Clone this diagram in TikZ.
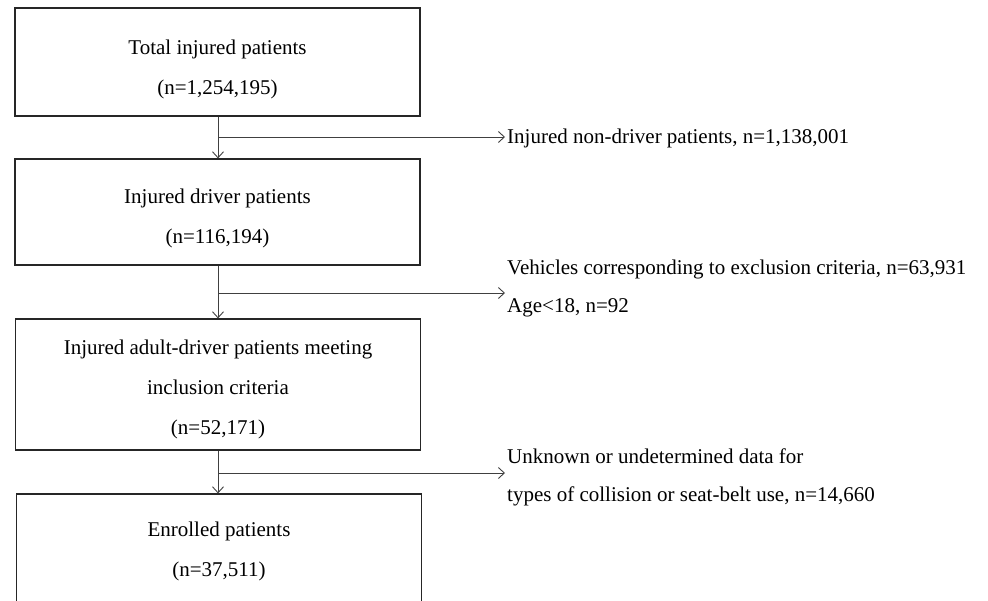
\documentclass[tikz,border=0pt]{standalone}
\usepackage{fontspec}
\setmainfont{Liberation Serif}
\usetikzlibrary{arrows.meta}

\begin{document}
\begin{tikzpicture}[x=1pt,y=-1pt,
  box/.style={draw=black!85, line width=1.2pt, minimum width=405pt, align=center,
    font=\fontsize{21}{40}\selectfont},
  side/.style={anchor=west, inner sep=2pt, align=left, font=\fontsize{21}{38}\selectfont},
  flow/.style={draw=black!75, line width=0.9pt, -{Straight Barb[length=6pt,width=11pt]}}]
\useasboundingbox (0,0) rectangle (988,600);
\node [box, minimum height=108pt, text height=69pt] (total) at (217.5,62) {Total injured patients\\(n=1,254,195)};
\node [box, minimum height=106pt, text height=67pt] (driver) at (217.5,212) {Injured driver patients\\(n=116,194)};
\node [box, minimum height=131pt, text height=104pt] (adult) at (218,384.5) {Injured adult-driver patients meeting\\inclusion criteria\\(n=52,171)};
\node [box, minimum height=108pt, text height=62pt] (enrolled) at (219,548) {Enrolled patients\\(n=37,511)};
\node [side] (nondriver) at (505,138) {Injured non-driver patients, n=1,138,001};
\node [side] (vehicles) at (505,288) {Vehicles corresponding to exclusion criteria, n=63,931\\Age<18, n=92};
\node [side] (unknown) at (505,477) {Unknown or undetermined data for\\types of collision or seat-belt use, n=14,660};
\coordinate (j1) at (218,137);
\coordinate (j2) at (218,293);
\coordinate (j3) at (218,473);
\draw [flow] (total.south -| j1) -- (driver.north -| j1);
\draw [flow] (driver.south -| j2) -- (adult.north -| j2);
\draw [flow] (adult.south -| j3) -- (enrolled.north -| j3);
\draw [flow] (j1) -- (nondriver.west |- j1);
\draw [flow] (j2) -- (vehicles.west |- j2);
\draw [flow] (j3) -- (unknown.west |- j3);
\end{tikzpicture}
\end{document}
